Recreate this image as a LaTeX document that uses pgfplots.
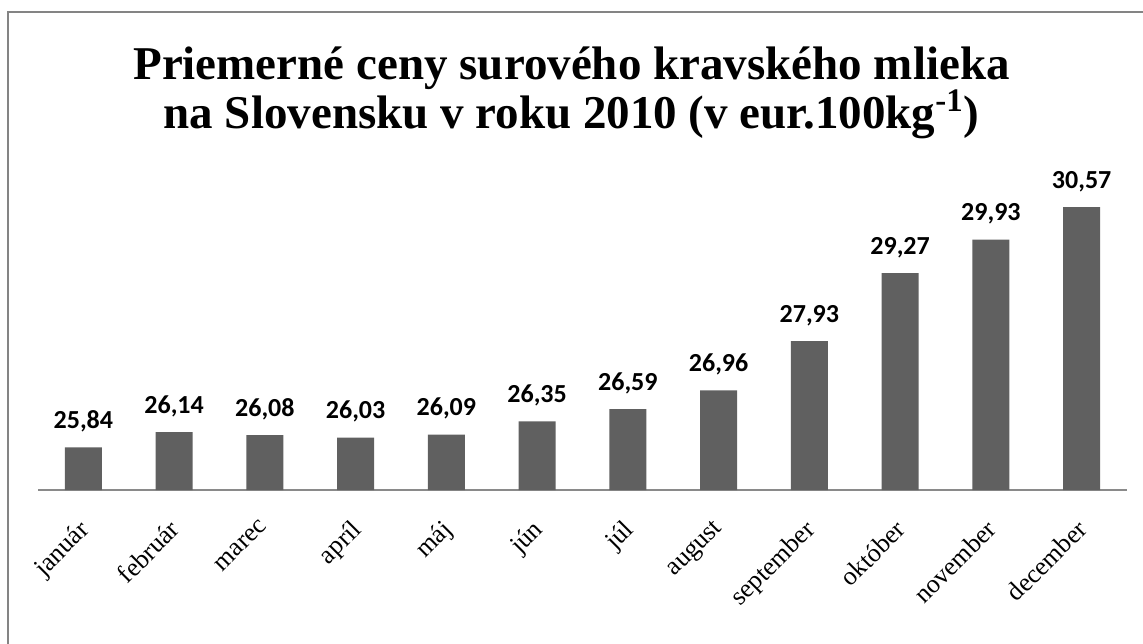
\documentclass[border=0pt]{standalone}
\usepackage{pgfplots}
\pgfplotsset{compat=1.18}
\usepackage{fontspec}
\setmainfont{Liberation Serif}
\newfontfamily\carlito{Carlito}
\definecolor{barc}{HTML}{606060}
\definecolor{framec}{HTML}{848484}
\definecolor{axc}{HTML}{8A8A8A}
\begin{document}
\begin{tikzpicture}
\useasboundingbox (0,0) rectangle (571.5bp,322bp);
% frame (top and left visible)
\draw[framec, line width=1bp] (4bp,-5bp) -- (4bp,316bp) -- (580bp,316bp);
% title
\node[anchor=base, font=\fontsize{23.5bp}{28bp}\selectfont\bfseries] at (285.75bp,282bp) {Priemerné ceny surového kravského mlieka};
\node[anchor=base, font=\fontsize{23.5bp}{28bp}\selectfont\bfseries] at (285.75bp,257.5bp) {na Slovensku v roku 2010 (v eur.100kg\textsuperscript{-1})};
\begin{axis}[
  at={(19bp,77bp)}, anchor=south west,
  scale only axis, width=544.5bp, height=152.4bp,
  xmin=-0.5, xmax=11.5, ymin=25, ymax=31,
  ybar, bar width=18.5bp, bar shift=0pt,
  axis y line=none,
  axis x line*=bottom,
  x axis line style={draw=axc, line width=0.6bp, -},
  major tick length=0pt,
  xtick=data,
  xticklabels={január,február,marec,apríl,máj,jún,júl,august,september,október,november,december},
  xticklabel style={xshift=-3bp, yshift=-14bp, rotate=45, anchor=north east, font=\fontsize{13bp}{15bp}\selectfont, inner sep=0pt},
  nodes near coords={\pgfmathprintnumber[assume math mode=true,use comma,fixed,fixed zerofill,precision=2]{\pgfplotspointmeta}},
  nodes near coords style={font=\carlito\bfseries\fontsize{13bp}{15bp}\selectfont, anchor=south, inner sep=0pt, yshift=7.5bp},
  clip=false,
]
\addplot[fill=barc, draw=none] coordinates {
(0,25.84) (1,26.14) (2,26.08) (3,26.03) (4,26.09) (5,26.35)
(6,26.59) (7,26.96) (8,27.93) (9,29.27) (10,29.93) (11,30.57)};
\end{axis}
\end{tikzpicture}
\end{document}
